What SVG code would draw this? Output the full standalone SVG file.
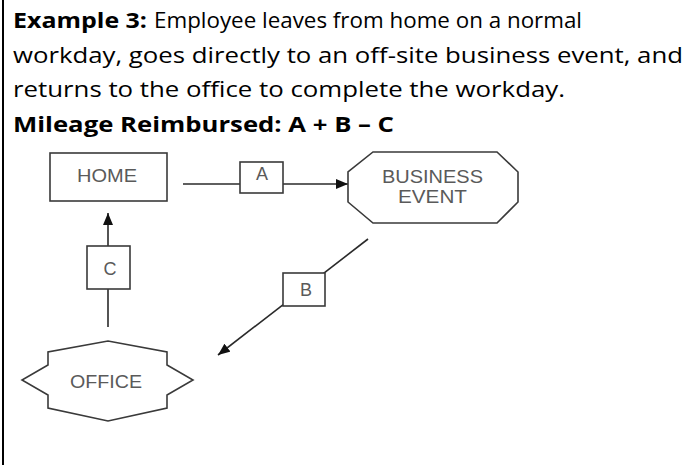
<svg xmlns="http://www.w3.org/2000/svg" width="694" height="465" viewBox="0 0 694 465">
<style>
.hdr{font-family:"Open Sans","Noto Sans","Liberation Sans",sans-serif;font-size:22px;fill:#000}
.b{font-weight:bold}
.shape{fill:#fff;stroke:#3a3a3a;stroke-width:1.6}
.lbl{font-family:"Liberation Sans",Arial,sans-serif;font-size:18px;fill:#5a5a5a;text-anchor:middle}
.conn{stroke:#2a2a2a;stroke-width:1.6;fill:none}
</style>
<defs>
<marker id="arr" viewBox="0 0 12 10" refX="12" refY="5" markerWidth="12" markerHeight="10" markerUnits="userSpaceOnUse" orient="auto">
<path d="M0,0 L12,5 L0,10 Z" fill="#111"/>
</marker>
</defs>
<rect x="0" y="0" width="694" height="465" fill="#fff"/>
<rect x="2" y="0" width="2" height="465" fill="#000"/>
<g id="caption">
<text class="hdr" y="28.3"><tspan class="b" x="13" textLength="134" lengthAdjust="spacingAndGlyphs">Example 3:</tspan><tspan x="154" textLength="428" lengthAdjust="spacingAndGlyphs">Employee leaves from home on a normal</tspan></text>
<text class="hdr" x="13" y="62.8" textLength="670" lengthAdjust="spacingAndGlyphs">workday, goes directly to an off-site business event, and</text>
<text class="hdr" x="13" y="97.3" textLength="552" lengthAdjust="spacingAndGlyphs">returns to the office to complete the workday.</text>
<text class="hdr b" x="13" y="131.7" textLength="381" lengthAdjust="spacingAndGlyphs">Mileage Reimbursed: A + B – C</text>
</g>
<g id="connectors">
<line class="conn" x1="183" y1="184" x2="348" y2="184" marker-end="url(#arr)"/>
<line class="conn" x1="368" y1="239" x2="218" y2="355" marker-end="url(#arr)"/>
<line class="conn" x1="108" y1="327" x2="108" y2="213" marker-end="url(#arr)"/>
<g id="label-A"><rect class="shape" x="240" y="162" width="43" height="31"/><text class="lbl" x="262" y="180" font-size="17">A</text></g>
<g id="label-B"><rect class="shape" x="283" y="273" width="42" height="33"/><text class="lbl" x="306" y="296" font-size="17">B</text></g>
<g id="label-C"><rect class="shape" x="87" y="246" width="43" height="43"/><text class="lbl" x="110" y="275" font-size="17">C</text></g>
</g>
<g id="home">
<rect class="shape" x="50" y="153" width="117" height="48"/>
<text class="lbl" x="107" y="182" textLength="60" lengthAdjust="spacingAndGlyphs">HOME</text>
</g>
<g id="business-event">
<polygon class="shape" points="373,152 497,152 518,172 518,202 497,223 373,223 348,202 348,172"/>
<text class="lbl" x="432.5" y="183" textLength="101" lengthAdjust="spacingAndGlyphs">BUSINESS</text>
<text class="lbl" x="432.5" y="203" textLength="69" lengthAdjust="spacingAndGlyphs">EVENT</text>
</g>
<g id="office">
<polygon class="shape" points="48,352 48,365 22,380 48,395 48,408 108,421 167,408 167,395 193,380 167,365 167,352 108,341"/>
<text class="lbl" x="106" y="388" textLength="72" lengthAdjust="spacingAndGlyphs">OFFICE</text>
</g>
</svg>
